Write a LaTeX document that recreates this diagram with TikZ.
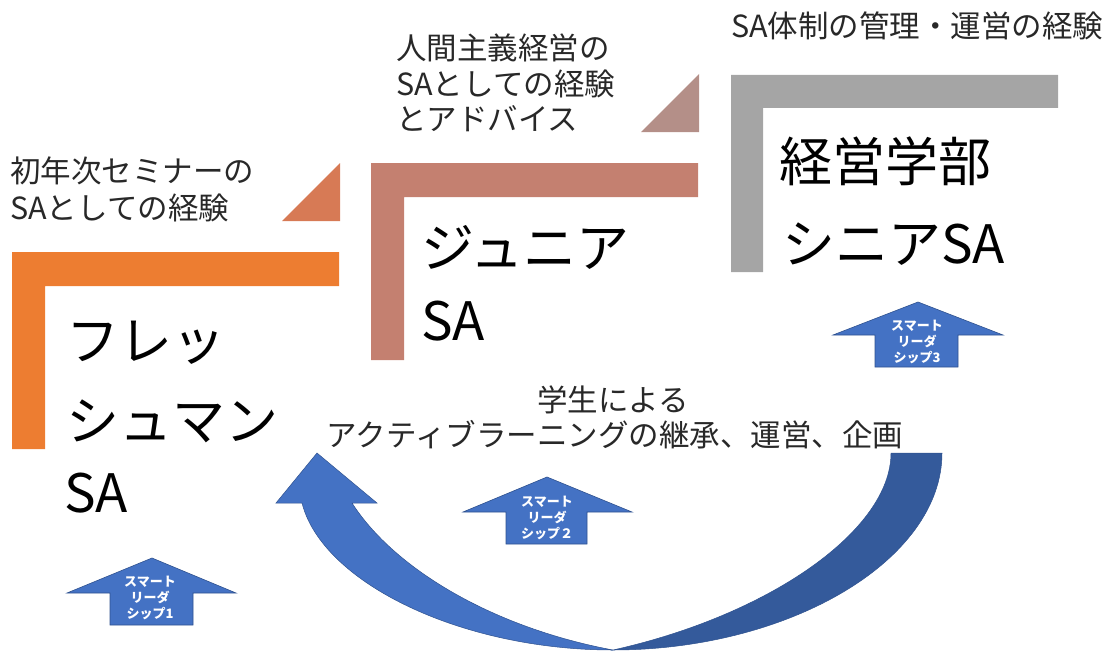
\documentclass[tikz,border=0pt]{standalone}
\usepackage{fontspec}
\setmainfont{Noto Sans CJK JP}
\begin{document}
\begin{tikzpicture}[x=1pt,y=-1pt,
  desc/.style={font=\fontsize{30.5}{36}\selectfont, text=desccol, inner sep=0pt, anchor=base west},
  big/.style={font=\fontsize{53}{60}\selectfont, text=black, inner sep=0pt, anchor=base west},
  lbl/.style={font=\fontsize{13}{16}\selectfont\bfseries, text=white, inner sep=0pt, align=center},
  blk/.style={fill=arrowblue, draw=arrowedge, line width=0.6pt, line join=miter}
]
\definecolor{desccol}{RGB}{40,40,40}
\definecolor{orangeL}{RGB}{237,125,49}
\definecolor{orangeT}{RGB}{215,122,85}
\definecolor{juniorL}{RGB}{196,128,112}
\definecolor{juniorT}{RGB}{180,143,136}
\definecolor{grayL}{RGB}{165,165,165}
\definecolor{arrowblue}{RGB}{68,114,196}
\definecolor{arrowdark}{RGB}{52,90,155}
\definecolor{arrowedge}{RGB}{47,82,143}
\useasboundingbox (0,0) rectangle (1102,650);

% L-shaped frames
\fill[orangeL] (12,252) -- (339,252) -- (339,286) -- (45,286) -- (45,449) -- (12,449) -- cycle;
\fill[juniorL] (371,163) -- (698,163) -- (698,197) -- (404,197) -- (404,360) -- (371,360) -- cycle;
\fill[grayL] (731,75) -- (1058,75) -- (1058,108) -- (763,108) -- (763,272) -- (731,272) -- cycle;

% corner triangles
\fill[orangeT] (282,221) -- (340,163) -- (340,221) -- cycle;
\fill[juniorT] (641,132) -- (699,74) -- (699,132) -- cycle;

% descriptive texts
\node[desc] (t1a) at (10,182) {初年次セミナーの};
\node[desc] (t1b) at (10,219) {SAとしての経験};
\node[desc] (t2a) at (396,60) {人間主義経営の};
\node[desc] (t2b) at (396,96) {SAとしての経験};
\node[desc] (t2c) at (396,131) {とアドバイス};
\node[desc] (t3) at (731,38) {SA体制の管理・運営の経験};

% big labels
\node[big] (fr1) at (66,360) {フレッ};
\node[big] (fr2) at (66,440) {シュマン};
\node[big] (fr3) at (64,512) {SA};
\node[big] (jr1) at (421,267) {ジュニア};
\node[big] (jr2) at (421,340) {SA};
\node[big] (sn1) at (779,181) {経営学部};
\node[big] (sn2) at (782,263) {シニアSA};

% center text
\node[desc, anchor=base] (c1) at (613,411) {学生による};
\node[desc, anchor=base] (c2) at (615,446) {アクティブラーニングの継承、運営、企画};

% curved arrow: dark right part
\filldraw[fill=arrowdark, draw=arrowedge, line width=0.5pt]
  (891,453) -- (942,453) .. controls (942,560) and (790,650) .. (613,650)
  .. controls (770,615) and (891,530) .. (891,453) -- cycle;
% curved arrow: light left part with head
\filldraw[fill=arrowblue, draw=arrowedge, line width=0.5pt, line join=miter]
  (302,503) -- (276,503) -- (317,453) -- (377,503) -- (352,503)
  .. controls (395,570) and (495,628) .. (613,650)
  .. controls (460,650) and (322,582) .. (302,503) -- cycle;

% small up arrows
\draw[blk] (152,558) -- (236,593) -- (193,593) -- (193,625) -- (110,625) -- (110,593) -- (67,593) -- cycle;
\node[lbl] (a1) at (150,598) {スマート\\リーダ\\シップ1};
\draw[blk] (547,477) -- (632,512) -- (587,512) -- (587,544) -- (506,544) -- (506,512) -- (463,512) -- cycle;
\node[lbl] (a2) at (547,518) {スマート\\リーダ\\シップ２};
\draw[blk] (918,302) -- (1003,335) -- (958,335) -- (958,367) -- (875,367) -- (875,335) -- (833,335) -- cycle;
\node[lbl] (a3) at (917,342) {スマート\\リーダ\\シップ3};
\end{tikzpicture}
\end{document}
